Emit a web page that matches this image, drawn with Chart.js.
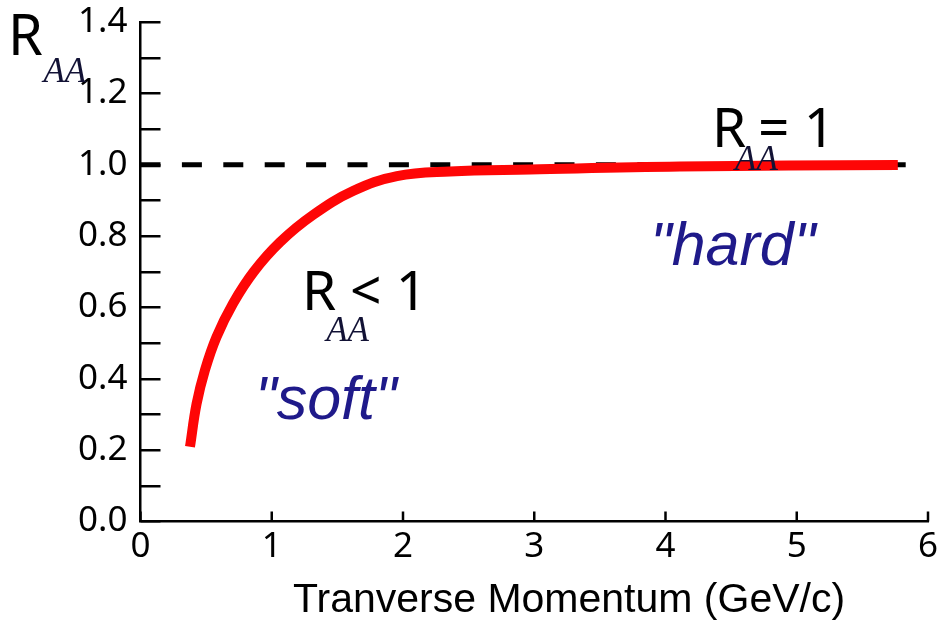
<!DOCTYPE html>
<html>
<head>
<meta charset="utf-8">
<script src="https://cdn.jsdelivr.net/npm/chart.js@4.4.1/dist/chart.umd.min.js"></script>
<style>
  html, body { margin: 0; padding: 0; background: #fff; }
  #c { display: block; }
</style>
</head>
<body>
<canvas id="c" width="937" height="620"></canvas>
<script>
// ---- data ----
const ptValues   = [0.377, 0.427, 0.491, 0.579, 0.705, 0.865, 1.063, 1.314, 1.619, 1.954, 2.358, 2.968, 4.11, 5.77];
const raaValues  = [0.209, 0.329, 0.424, 0.517, 0.611, 0.701, 0.783, 0.859, 0.926, 0.968, 0.981, 0.9865, 0.995, 0.999];
const refX       = [0, 5.99];
const refY       = [1.0, 1.0];
const xTickValues = [0, 1, 2, 3, 4, 5, 6];
const yTickLabels = ['0.0', '', '0.2', '', '0.4', '', '0.6', '', '0.8', '', '1.0', '', '1.2', '', '1.4'];
const xTitle = 'Tranverse Momentum (GeV/c)';

// ---- annotations (data coordinates) ----
const notes = [
  { text: 'R',       x: -1.0095, y: 1.3075, font: '56px "Noto Sans"', color: '#000' },
  { text: 'AA',      x: -0.74,   y: 1.2318, font: 'italic 35px "Liberation Serif"', color: '#121235' },
  { text: 'R',       x: 1.2305,  y: 0.5926, font: '55px "Noto Sans"', color: '#000' },
  { text: '< 1',     x: 1.596,   y: 0.5926, font: '55px "Noto Sans"', color: '#000' },
  { text: 'AA',      x: 1.415,   y: 0.5057, font: 'italic 35px "Liberation Serif"', color: '#121235' },
  { text: 'R',       x: 4.354,   y: 1.0504, font: '55px "Noto Sans"', color: '#000' },
  { text: '= 1',     x: 4.705,   y: 1.0504, font: '55px "Noto Sans"', color: '#000' },
  { text: 'AA',      x: 4.53,    y: 0.9851, font: 'italic 35px "Liberation Serif"', color: '#121235' },
  { text: '"soft"',  x: 0.8724,  y: 0.2871, font: 'italic 61px "Liberation Sans"', color: '#1f1a8a' },
  { text: '"hard"',  x: 3.882,   y: 0.7188, font: 'italic 61px "Liberation Sans"', color: '#1f1a8a' }
];
const titlePos = { x: 3.265, y: -0.2526 };

const curve = ptValues.map((x, i) => ({ x, y: raaValues[i] }));
const refLine = refX.map((x, i) => ({ x, y: refY[i] }));

const tickMarks = {
  id: 'tickMarks',
  afterDraw(chart) {
    const { ctx, scales: { x, y } } = chart;
    ctx.save();
    ctx.strokeStyle = '#000';
    ctx.lineWidth = 2.5;
    ctx.beginPath();
    y.ticks.forEach(t => {
      const py = Math.round(y.getPixelForValue(t.value)) + 0.25;
      ctx.moveTo(x.left, py);
      ctx.lineTo(x.left + 20, py);
    });
    xTickValues.forEach(v => {
      const px = x.getPixelForValue(v);
      ctx.moveTo(px, y.bottom);
      ctx.lineTo(px, y.bottom - 10);
    });
    ctx.stroke();
    ctx.restore();
  }
};

const textNotes = {
  id: 'textNotes',
  afterDatasetsDraw(chart) {
    const { ctx, scales: { x, y } } = chart;
    ctx.save();
    ctx.textBaseline = 'alphabetic';
    ctx.textAlign = 'left';
    notes.forEach(n => {
      ctx.font = n.font;
      ctx.fillStyle = n.color;
      ctx.fillText(n.text, x.getPixelForValue(n.x), y.getPixelForValue(n.y));
    });
    ctx.font = '41px "Liberation Sans"';
    ctx.fillStyle = '#000';
    ctx.textAlign = 'center';
    ctx.fillText(xTitle, x.getPixelForValue(titlePos.x), y.getPixelForValue(titlePos.y));
    ctx.restore();
  }
};

new Chart(document.getElementById('c'), {
  type: 'line',
  data: {
    datasets: [
      {
        data: curve,
        borderColor: '#fe0606',
        borderWidth: 10,
        pointRadius: 0,
        tension: 0.4,
        fill: false
      },
      {
        data: refLine,
        borderColor: '#000',
        borderWidth: 5,
        borderDash: [20, 21.4],
        pointRadius: 0,
        fill: false
      }
    ]
  },
  options: {
    responsive: false,
    animation: false,
    devicePixelRatio: 1,
    layout: { padding: { left: 0, top: 22, right: 9, bottom: 0 } },
    plugins: { legend: { display: false }, tooltip: { enabled: false } },
    scales: {
      x: {
        type: 'linear',
        min: 0, max: 6,
        grid: { display: false, drawTicks: false },
        border: { display: true, color: '#000', width: 2.5 },
        ticks: {
          stepSize: 1,
          padding: 5,
          color: '#000',
          font: { family: 'Noto Sans', size: 35 },
          callback: v => String(v)
        },
        afterFit(s) { s.height = 98.6; s.paddingLeft = 0; s.paddingRight = 0; }
      },
      y: {
        type: 'linear',
        min: 0, max: 1.4,
        grid: { display: false, drawTicks: false },
        border: { display: true, color: '#000', width: 2.5 },
        ticks: {
          stepSize: 0.1,
          padding: 13,
          color: '#000',
          font: { family: 'Noto Sans', size: 35 },
          autoSkip: false,
          callback: (v, i) => yTickLabels[i] ?? ''
        },
        afterFit(s) { s.width = 140.5; s.paddingTop = 0; s.paddingBottom = 0; }
      }
    }
  },
  plugins: [tickMarks, textNotes]
});
</script>
</body>
</html>
